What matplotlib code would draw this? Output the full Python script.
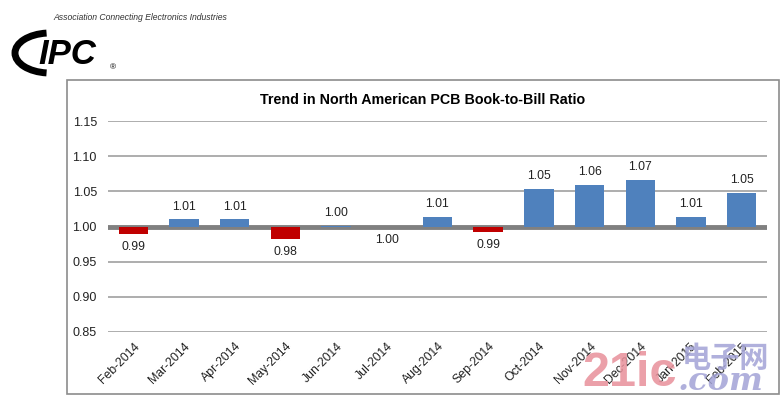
import matplotlib.pyplot as plt
import matplotlib.patches as mpatches
import numpy as np

plt.rcParams['font.family'] = ['Liberation Sans', 'DejaVu Sans']

months = ['Feb-2014', 'Mar-2014', 'Apr-2014', 'May-2014', 'Jun-2014', 'Jul-2014',
          'Aug-2014', 'Sep-2014', 'Oct-2014', 'Nov-2014', 'Dec-2014', 'Jan-2015', 'Feb-2015']
ratio = [0.989, 1.010, 1.010, 0.982, 1.001, 0.999,
         1.013, 0.992, 1.054, 1.059, 1.066, 1.014, 1.048]
labels = ['0.99', '1.01', '1.01', '0.98', '1.00', '1.00',
          '1.01', '0.99', '1.05', '1.06', '1.07', '1.01', '1.05']
yticks = [0.85, 0.90, 0.95, 1.00, 1.05, 1.10, 1.15]

W, H = 783, 396
fig = plt.figure(figsize=(W / 100, H / 100), dpi=100)

# outer chart frame
frame = mpatches.Rectangle((67 / W, 1 - 394 / H), (779 - 67) / W, (394 - 80) / H,
                           transform=fig.transFigure, fill=False, ec='#8c8c8c', lw=1.2)
fig.patches.append(frame)

ax = fig.add_axes([108 / W, 1 - 332 / H, (767 - 108) / W, (332 - 121) / H])
x = np.arange(len(months))
heights = [v - 1.0 for v in ratio]
colors = ['#4F81BD' if h >= 0 else '#C00000' for h in heights]
ax.bar(x, heights, bottom=1.0, width=0.58, color=colors, zorder=3)

for i, (v, lab) in enumerate(zip(ratio, labels)):
    if v >= 1.0:
        ax.annotate(lab, (i, v), xytext=(0, 5), textcoords='offset points',
                    ha='center', va='bottom', fontsize=8.8, color='#222222')
    else:
        ax.annotate(lab, (i, v), xytext=(0, -5), textcoords='offset points',
                    ha='center', va='top', fontsize=8.8, color='#222222')

ax.set_xlim(-0.5, len(months) - 0.5)
ax.set_ylim(0.85, 1.15)
ax.set_yticks(yticks)
ax.set_yticklabels(['%.2f' % t for t in yticks], fontsize=9, color='#222222')
for t in yticks:
    ax.axhline(t, color='#a0a0a0', lw=1.2, zorder=1)
ax.axhline(1.0, color='#808080', lw=3.5, zorder=2)
ax.set_xticks(x)
ax.set_xticklabels(months, rotation=45, ha='right', rotation_mode='anchor',
                   fontsize=8.8, color='#222222')
ax.tick_params(length=0, pad=6)
ax.tick_params(axis='y', pad=8)
for s in ax.spines.values():
    s.set_visible(False)

fig.text(423 / W, 1 - 100 / H, 'Trend in North American PCB Book-to-Bill Ratio',
         ha='center', va='center', fontsize=10.3, fontweight='bold')

# IPC logo
fig.text(53 / W, 1 - 17 / H, 'Association Connecting Electronics Industries',
         ha='left', va='center', fontsize=6.2, style='italic', color='#333333')
swoosh = mpatches.Arc((50 / W, 1 - 53 / H), 70 / W, 40 / H, angle=0,
                      theta1=95, theta2=265, transform=fig.transFigure,
                      lw=5, color='black')
fig.patches.append(swoosh)
fig.text(38 / W, 1 - 54 / H, 'IPC', ha='left', va='center', fontsize=25,
         fontweight='bold', style='italic', color='black')
fig.text(110 / W, 1 - 68 / H, '®', ha='left', va='center', fontsize=6)

# watermark
fig.text(582 / W, 1 - 374 / H, '21ic', ha='left', va='center', fontsize=35,
         fontweight='bold', color='#e8909a', alpha=0.85)
fig.text(678 / W, 1 - 382 / H, '.com', ha='left', va='center', fontsize=23,
         fontweight='bold', style='italic', color='#a3a3d6', alpha=0.85,
         family='DejaVu Serif')
fig.text(682 / W, 1 - 358 / H, '电子网', ha='left', va='center', fontsize=21,
         fontweight='bold', color='#a3a3d6', alpha=0.85,
         family=['Noto Sans CJK SC', 'DejaVu Sans'])

fig.savefig('out.png', dpi=100)
